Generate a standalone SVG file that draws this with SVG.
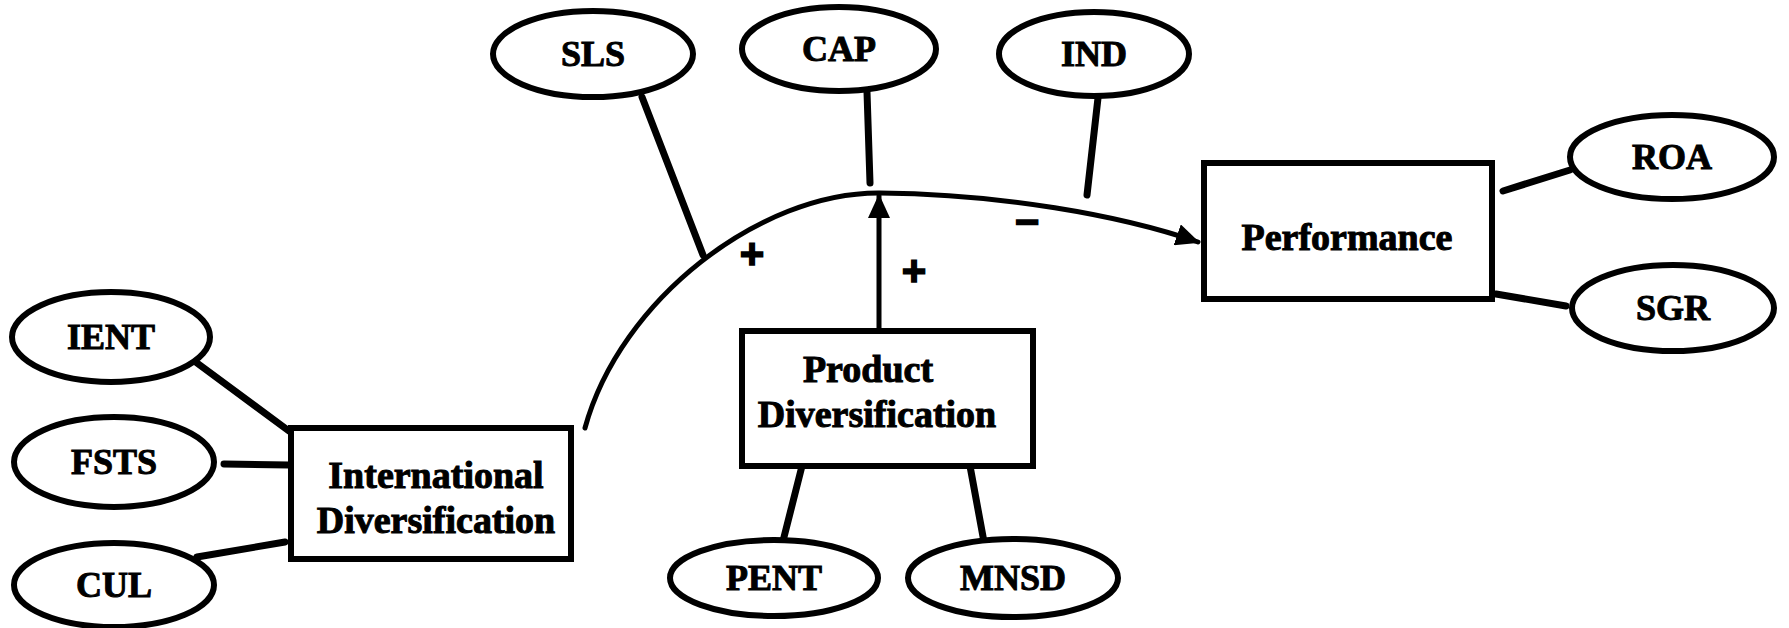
<svg xmlns="http://www.w3.org/2000/svg" width="1789" height="628" viewBox="0 0 1789 628">
<style>
.e{fill:#fff;stroke:#000;stroke-width:6}
.b{fill:#fff;stroke:#000;stroke-width:6}
.l{stroke:#000;stroke-width:7;fill:none;stroke-linecap:round}
.t{font-family:"Liberation Serif","Times New Roman",serif;font-weight:bold;font-size:36px;text-anchor:middle;fill:#000;stroke:#000;stroke-width:1}
.bt{font-family:"Liberation Serif","Times New Roman",serif;font-weight:bold;font-size:38px;text-anchor:middle;fill:#000;stroke:#000;stroke-width:1}
.s{font-family:"Liberation Sans",Arial,sans-serif;font-weight:bold;font-size:42px;text-anchor:middle;fill:#000;stroke:#000;stroke-width:1.5}
</style>
<defs>
<marker id="ah2" markerWidth="24" markerHeight="22" refX="22" refY="11" orient="auto" markerUnits="userSpaceOnUse" viewBox="0 0 24 22">
<path d="M0,0 L24,11 L0,22 z" fill="#000"/>
</marker>
</defs>
<g id="connectors">
<path class="l" style="stroke-width:5" d="M585 428 C620 300 760 192 880 193 C1000 194 1120 215 1198 242" marker-end="url(#ah2)"/>
<line class="l" style="stroke-width:5" x1="879" y1="331" x2="879" y2="196" marker-end="url(#ah2)"/>
<line class="l" x1="642" y1="97" x2="703" y2="255"/>
<line class="l" x1="867" y1="92" x2="870" y2="183"/>
<line class="l" x1="1098" y1="98" x2="1087" y2="195"/>
<line class="l" x1="1503" y1="191" x2="1570" y2="170"/>
<line class="l" x1="1496" y1="294" x2="1566" y2="306"/>
<line class="l" x1="197" y1="363" x2="289" y2="431"/>
<line class="l" x1="224" y1="464" x2="289" y2="465"/>
<line class="l" x1="197" y1="557" x2="285" y2="542"/>
<line class="l" x1="802" y1="466" x2="782" y2="545"/>
<line class="l" x1="970" y1="466" x2="984" y2="542"/>
<text class="s" x="752" y="268">+</text>
<text class="s" x="914" y="285">+</text>
<text class="s" x="1027" y="236">−</text>
</g>
<g id="SLS"><ellipse class="e" cx="593" cy="54" rx="100" ry="43"/><text class="t" x="593" y="66">SLS</text></g>
<g id="CAP"><ellipse class="e" cx="839" cy="49" rx="97" ry="42"/><text class="t" x="839" y="61">CAP</text></g>
<g id="IND"><ellipse class="e" cx="1094" cy="54" rx="95" ry="42"/><text class="t" x="1094" y="66">IND</text></g>
<g id="ROA"><ellipse class="e" cx="1672" cy="157" rx="102" ry="42"/><text class="t" x="1672" y="169">ROA</text></g>
<g id="SGR"><ellipse class="e" cx="1673" cy="308" rx="101" ry="43"/><text class="t" x="1673" y="320">SGR</text></g>
<g id="IENT"><ellipse class="e" cx="111" cy="337" rx="99" ry="45"/><text class="t" x="111" y="349">IENT</text></g>
<g id="FSTS"><ellipse class="e" cx="114" cy="462" rx="100" ry="45"/><text class="t" x="114" y="474">FSTS</text></g>
<g id="CUL"><ellipse class="e" cx="114" cy="585" rx="100" ry="42"/><text class="t" x="114" y="597">CUL</text></g>
<g id="PENT"><ellipse class="e" cx="774" cy="578" rx="104" ry="38"/><text class="t" x="774" y="590">PENT</text></g>
<g id="MNSD"><ellipse class="e" cx="1013" cy="578" rx="105" ry="39"/><text class="t" x="1013" y="590">MNSD</text></g>
<g id="international"><rect class="b" x="291" y="428" width="280" height="131"/><text class="bt" x="436" y="488">International</text><text class="bt" x="436" y="533">Diversification</text></g>
<g id="product"><rect class="b" x="742" y="331" width="291" height="135"/><text class="bt" x="868" y="382">Product</text><text class="bt" x="877" y="427">Diversification</text></g>
<g id="performance"><rect class="b" x="1204" y="163" width="288" height="136"/><text class="bt" x="1347" y="250">Performance</text></g>
</svg>
